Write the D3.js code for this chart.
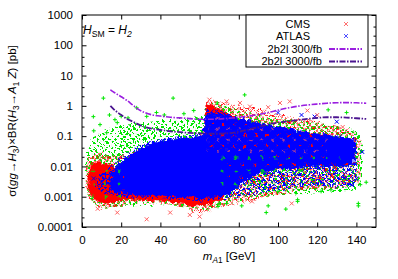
<!DOCTYPE html>
<html>
<head>
<meta charset="utf-8">
<script src="https://cdn.jsdelivr.net/npm/d3@7"></script>
<style>
  body { margin: 0; background: #fff; }
  svg { display: block; font-family: "Liberation Sans", Arial, sans-serif; }
</style>
</head>
<body>
<svg id="chart" width="398" height="279"></svg>
<script>
// scan envelopes: [m_A1 (GeV), low (pb), high (pb)]
const greenBand = [
  [2, 0.003, 0.015], [3, 0.0012, 0.04], [5, 0.0007, 0.08], [8, 0.0005, 0.12],
  [12, 0.0004, 0.15], [16, 0.00045, 0.2], [20, 0.0005, 0.22], [25, 0.0005, 0.25],
  [30, 0.0005, 0.28], [35, 0.0005, 0.3], [40, 0.0006, 0.33], [45, 0.0005, 0.35],
  [50, 0.0005, 0.38], [55, 0.0004, 0.4], [60, 0.0004, 0.42], [62, 0.00035, 0.5],
  [63, 0.00035, 1.2], [66, 0.0004, 1.3], [70, 0.0005, 1.1], [75, 0.0006, 0.9],
  [80, 0.0007, 0.7], [90, 0.0009, 0.5], [100, 0.0011, 0.4], [110, 0.0012, 0.32],
  [120, 0.0013, 0.27], [130, 0.0014, 0.22], [137, 0.0015, 0.18], [141, 0.002, 0.12],
  [143, 0.004, 0.05]
];
const redBand = [
  [2, 0.0025, 0.01], [4, 0.0008, 0.02], [7, 0.0005, 0.03], [10, 0.0004, 0.03],
  [15, 0.0004, 0.025], [20, 0.0005, 0.025], [25, 0.0006, 0.03], [30, 0.0006, 0.04],
  [40, 0.0006, 0.06], [50, 0.0005, 0.08], [58, 0.0003, 0.1], [62, 0.0003, 0.15],
  [63, 0.0003, 1.6], [67, 0.0004, 1.6], [72, 0.0005, 1.3], [80, 0.0006, 1.0],
  [90, 0.0008, 0.8], [100, 0.0012, 0.55], [110, 0.0015, 0.4], [120, 0.0018, 0.3],
  [130, 0.002, 0.22], [138, 0.0022, 0.15], [142, 0.003, 0.08]
];
const redCoreLow = [
  [3, 0.002, 0.006], [5, 0.001, 0.012], [8, 0.0007, 0.015], [12, 0.0006, 0.012],
  [16, 0.0007, 0.01], [20, 0.0008, 0.008], [25, 0.0008, 0.006], [30, 0.0008, 0.002],
  [40, 0.0007, 0.0015], [50, 0.0006, 0.0015], [58, 0.0005, 0.0015], [62, 0.0005, 0.002],
  [66, 0.0006, 0.0015], [72, 0.0008, 0.0013]
];
const redCoreTop = [
  [63, 0.05, 1.1], [67, 0.05, 1.0], [70, 0.05, 0.8], [75, 0.05, 0.55], [80, 0.05, 0.38]
];
const blueBand = [
  [7, 0.002, 0.004], [12, 0.0013, 0.007], [16, 0.0011, 0.012], [20, 0.001, 0.02],
  [25, 0.0009, 0.035], [30, 0.0009, 0.05], [40, 0.0009, 0.08], [50, 0.0008, 0.1],
  [60, 0.0007, 0.12], [62, 0.0007, 0.13], [63, 0.0007, 0.8], [70, 0.0008, 0.75],
  [77, 0.0009, 0.5], [85, 0.0011, 0.35], [94, 0.0014, 0.26], [103, 0.0017, 0.19],
  [111, 0.002, 0.15], [120, 0.0022, 0.12], [128, 0.0022, 0.11], [135, 0.002, 0.1],
  [140, 0.0025, 0.08]
];
const blueCore = [
  [14, 0.0018, 0.005], [18, 0.0014, 0.01], [22, 0.0012, 0.018], [27, 0.0011, 0.03],
  [32, 0.0011, 0.045], [40, 0.0011, 0.07], [50, 0.001, 0.085], [60, 0.0009, 0.1],
  [62, 0.0009, 0.11], [63, 0.001, 0.5], [68, 0.001, 0.55], [75, 0.0012, 0.45],
  [82, 0.003, 0.35], [90, 0.006, 0.27], [100, 0.008, 0.2], [110, 0.009, 0.15],
  [120, 0.01, 0.12], [130, 0.01, 0.1], [136, 0.01, 0.09], [139, 0.012, 0.07]
];
// zones where green and red points show through the blue
const mixRight = [[70, 0.0015, 0.02], [80, 0.002, 0.02], [100, 0.0025, 0.02], [120, 0.003, 0.025], [138, 0.003, 0.015]];
const mixTop = [[64, 0.03, 0.6], [80, 0.03, 0.3], [100, 0.02, 0.17], [125, 0.02, 0.1]];
const mixLeft = [[4, 0.001, 0.012], [12, 0.0006, 0.012], [22, 0.0008, 0.007]];

// isolated points: [m_A1, sigma x BR]
const greenPts = [
  [10.9, 1.8], [16.8, 0.35], [9.2, 0.24], [12.6, 0.13], [23.5, 0.4], [27.9, 0.86],
  [46.5, 1.8], [69, 1.25], [83, 2.3], [125.6, 0.74], [135, 0.6], [70, 0.0006],
  [94, 0.0003], [104, 0.00039], [110, 0.0007], [141, 0.0006], [100, 0.0015],
  [95, 0.0005], [127, 0.0017], [141, 0.0005], [81.5, 0.0005], [110, 0.0008],
  [122, 0.0015], [69.4, 0.00048], [73.8, 0.0006], [142, 0.0025], [145, 0.003],
  [6, 0.15], [14, 0.5], [20, 0.45], [33, 0.45], [38, 0.6], [52, 0.55], [57, 0.7],
  [5.8, 0.44], [18, 0.28], [42, 0.5]
];
const redPts = [
  [101, 1.25], [106, 1.4], [85.7, 0.95], [120, 0.5], [80.6, 1.25], [73.8, 1.4],
  [65, 1.6], [133, 0.2], [107, 0.0006], [86.7, 0.0007], [33, 0.00018], [55, 0.00025],
  [8, 0.0004], [115, 0.7], [95, 0.9], [60, 0.00022], [45, 0.0003], [18, 0.0003], [3, 0.003]
];
const bluePts = [
  [130, 0.3], [118.7, 0.44], [137.6, 0.0025], [140, 0.004], [112, 0.5], [100, 0.6],
  [143, 0.03], [10, 0.003], [6, 0.004]
];

// 2b2l reach curves
const curveMass = [14.5, 16, 18, 20, 23, 26, 29, 32, 36, 40, 45, 50, 55, 60, 65, 70, 75, 80,
  85, 90, 95, 100, 105, 110, 115, 120, 125, 130, 135, 140, 145];
const curve300 = [3.4, 2.9, 2.4, 2.0, 1.5, 1.05, 0.75, 0.6, 0.5, 0.46, 0.42, 0.4, 0.38, 0.36,
  0.36, 0.37, 0.39, 0.42, 0.46, 0.52, 0.6, 0.72, 0.85, 0.97, 1.07, 1.15, 1.22, 1.27, 1.28, 1.26, 1.22];
const curve3000 = [1.0, 0.8, 0.62, 0.5, 0.37, 0.3, 0.24, 0.2, 0.175, 0.16, 0.145, 0.135, 0.128,
  0.123, 0.12, 0.12, 0.125, 0.14, 0.165, 0.2, 0.245, 0.28, 0.31, 0.34, 0.37, 0.4, 0.42, 0.42,
  0.41, 0.39, 0.37];

const xTicks = [0, 20, 40, 60, 80, 100, 120, 140];
const yTicks = [1e-4, 1e-3, 1e-2, 1e-1, 1, 10, 100, 1000];
const yTickLabels = ["0.0001", "0.001", "0.01", "0.1", "1", "10", "100", "1000"];

const svg = d3.select("#chart");
const L = 82, R = 376, T = 15, B = 227;

const x = d3.scaleLinear().domain([0, 150]).range([L, R]);
const y = d3.scaleLog().domain([1e-4, 1000]).range([B, T]);

const GREEN = "#00e600", RED = "#ff0000", BLUE = "#0000ff";

const defs = svg.append("defs");
defs.append("clipPath").attr("id", "plotclip")
  .append("rect").attr("x", L).attr("y", T).attr("width", R - L).attr("height", B - T);

const rough = defs.append("filter").attr("id", "rough")
  .attr("x", "-5%").attr("y", "-5%").attr("width", "110%").attr("height", "110%");
rough.append("feTurbulence").attr("type", "fractalNoise").attr("baseFrequency", 0.22)
  .attr("numOctaves", 2).attr("seed", 3).attr("result", "n");
rough.append("feDisplacementMap").attr("in", "SourceGraphic").attr("in2", "n")
  .attr("scale", 6).attr("xChannelSelector", "R").attr("yChannelSelector", "G");

const plus = s => `M${-s},0h${2 * s}M0,${-s}v${2 * s}`;
const cross = s => `M${-s},${-s}L${s},${s}M${-s},${s}L${s},${-s}`;

function pattern(id, size, marks) {
  const p = defs.append("pattern").attr("id", id).attr("patternUnits", "userSpaceOnUse")
    .attr("width", size).attr("height", size);
  marks.forEach(mk => {
    p.append("path").attr("d", mk.d).attr("transform", `translate(${mk.x},${mk.y})`)
      .attr("stroke", mk.c).attr("stroke-width", mk.w || 1).attr("fill", "none");
  });
}
pattern("pGreen", 6, [
  { d: plus(1.6), x: 1.5, y: 1.5, c: GREEN }, { d: plus(1.6), x: 4.5, y: 4.5, c: GREEN }
]);
pattern("pRed", 6, [
  { d: cross(1.4), x: 1.5, y: 1.5, c: RED, w: 0.9 }, { d: cross(1.4), x: 4.5, y: 4.5, c: "#ff5050", w: 0.9 },
  { d: cross(1.2), x: 4.5, y: 1.5, c: "#ff8080", w: 0.7 }
]);
pattern("pBlue", 5, [
  { d: cross(1.4), x: 1.5, y: 1.5, c: BLUE, w: 1 }, { d: cross(1.4), x: 4, y: 4, c: BLUE, w: 1 }
]);
pattern("pMix", 13, [
  { d: plus(1.5), x: 2, y: 2, c: GREEN }, { d: cross(1.3), x: 8, y: 9, c: RED, w: 0.9 }
]);
pattern("pMixRed", 11, [
  { d: cross(1.3), x: 3, y: 3, c: RED, w: 0.9 }, { d: cross(1.2), x: 8.5, y: 8, c: "#ff6060", w: 0.8 }
]);

const area = d3.area()
  .x(d => x(d[0])).y0(d => y(d[1])).y1(d => y(d[2]));

const cloud = svg.append("g").attr("clip-path", "url(#plotclip)");
const layers = [
  [greenBand, "url(#pGreen)"],
  [redBand, "url(#pRed)"],
  [redCoreLow, RED],
  [redCoreTop, RED],
  [blueBand, "url(#pBlue)"],
  [blueCore, BLUE],
  [mixRight, "url(#pMix)"],
  [mixTop, "url(#pMixRed)"],
  [mixLeft, "url(#pMix)"]
];
layers.forEach(([band, fill]) => {
  cloud.append("path").datum(band).attr("d", area).attr("fill", fill).attr("filter", "url(#rough)");
});

function points(data, shape, color) {
  cloud.append("g").selectAll("path").data(data).join("path")
    .attr("d", shape(2))
    .attr("transform", d => `translate(${x(d[0])},${y(d[1])})`)
    .attr("stroke", color).attr("stroke-width", 1).attr("fill", "none");
}
points(greenPts, plus, GREEN);
points(redPts, cross, "#ff6060");
points(bluePts, cross, BLUE);

// reach curves
const C300 = "#9a1ee0", C3000 = "#4b1590";
const line = d3.line().x(d => x(d[0])).y(d => y(d[1])).curve(d3.curveMonotoneX);
cloud.append("path").datum(d3.zip(curveMass, curve300)).attr("d", line)
  .attr("fill", "none").attr("stroke", C300).attr("stroke-width", 1.6)
  .attr("stroke-dasharray", "6,1.5,1.5,1.5");
cloud.append("path").datum(d3.zip(curveMass, curve3000)).attr("d", line)
  .attr("fill", "none").attr("stroke", C3000).attr("stroke-width", 1.8)
  .attr("stroke-dasharray", "6,1.5,1.5,1.5");

// axes (gnuplot-style inward ticks, mirrored)
const fs = "11.5px";
svg.append("g").attr("transform", `translate(0,${B})`)
  .call(d3.axisBottom(x).tickValues(xTicks).tickSizeInner(-4.5).tickSizeOuter(0).tickPadding(9));
svg.append("g").attr("transform", `translate(${L},0)`)
  .call(d3.axisLeft(y).tickValues(yTicks).tickFormat((d, i) => yTickLabels[i])
    .tickSizeInner(-4.5).tickSizeOuter(0).tickPadding(9));
svg.append("g").attr("transform", `translate(0,${T})`)
  .call(d3.axisTop(x).tickValues(xTicks).tickSizeInner(-4.5).tickSizeOuter(0).tickFormat(""));
svg.append("g").attr("transform", `translate(${R},0)`)
  .call(d3.axisRight(y).tickValues(yTicks).tickSizeInner(-4.5).tickSizeOuter(0).tickFormat(""));
svg.selectAll(".domain").remove();
svg.selectAll(".tick line").attr("stroke", "#000");
svg.selectAll(".tick text").attr("font-size", fs).attr("fill", "#000")
  .attr("font-family", "Liberation Sans, Arial, sans-serif");

const minor = [];
yTicks.slice(0, -1).forEach(d => { minor.push(d * 2, d * 4); });
svg.append("g").selectAll("line").data(minor).join("line")
  .attr("x1", L).attr("x2", L + 2.5).attr("y1", d => y(d)).attr("y2", d => y(d)).attr("stroke", "#000");
svg.append("g").selectAll("line").data(minor).join("line")
  .attr("x1", R).attr("x2", R - 2.5).attr("y1", d => y(d)).attr("y2", d => y(d)).attr("stroke", "#000");

svg.append("rect").attr("x", L).attr("y", T).attr("width", R - L).attr("height", B - T)
  .attr("fill", "none").attr("stroke", "#000").attr("stroke-width", 1);

// rich text helper: parts = [text, style] with style in {i, sub}
function rich(sel, parts, size) {
  let shift = 0;
  parts.forEach(([t, st]) => {
    const sub = st && st.includes("sub");
    const target = sub ? 3 : 0;
    sel.append("tspan").text(t)
      .attr("dy", target - shift)
      .attr("font-size", sub ? size * 0.72 : size)
      .attr("font-style", st && st.includes("i") ? "italic" : "normal");
    shift = target;
  });
}

rich(svg.append("text").attr("x", 83).attr("y", 34).attr("fill", "#000"),
  [["H", "i"], ["SM", "sub"], [" = ", ""], ["H", "i"], ["2", "i sub"]], 12);

rich(svg.append("text").attr("transform", "translate(16,121) rotate(-90)")
  .attr("text-anchor", "middle").attr("fill", "#000"),
  [["σ(", ""], ["gg", "i"], ["→", ""], ["H", "i"], ["3", "sub"], [")×BR(", ""], ["H", "i"],
   ["3", "sub"], ["→", ""], ["A", "i"], ["1", "sub"], [" ", ""], ["Z", "i"], [") [pb]", ""]], 11.5);

rich(svg.append("text").attr("x", 229).attr("y", 260).attr("text-anchor", "middle").attr("fill", "#000"),
  [["m", "i"], ["A", "i sub"], ["1", "sub"], [" [GeV]", ""]], 11.5);

// legend
const lg = svg.append("g");
lg.append("rect").attr("x", 246).attr("y", 15).attr("width", 122).attr("height", 52)
  .attr("fill", "#fff").attr("stroke", "#000");
const legendRows = [
  { label: "CMS", y: 24, tx: 310, mark: cross, color: "#ff7070" },
  { label: "ATLAS", y: 36, tx: 310, mark: cross, color: "#5050ff" },
  { label: "2b2l 300/fb", y: 49, tx: 322, line: C300 },
  { label: "2b2l 3000/fb", y: 61.5, tx: 322, line: C3000 }
];
legendRows.forEach(r => {
  lg.append("text").attr("x", r.tx).attr("y", r.y).attr("dy", "0.35em")
    .attr("text-anchor", "end").attr("font-size", "11px").text(r.label);
  if (r.mark) {
    lg.append("path").attr("d", r.mark(2)).attr("transform", `translate(346,${r.y})`)
      .attr("stroke", r.color).attr("fill", "none");
  } else {
    lg.append("line").attr("x1", 329).attr("x2", 362).attr("y1", r.y).attr("y2", r.y)
      .attr("stroke", r.line).attr("stroke-width", 1.8).attr("stroke-dasharray", "6,1.5,1.5,1.5");
  }
});
</script>
</body>
</html>
